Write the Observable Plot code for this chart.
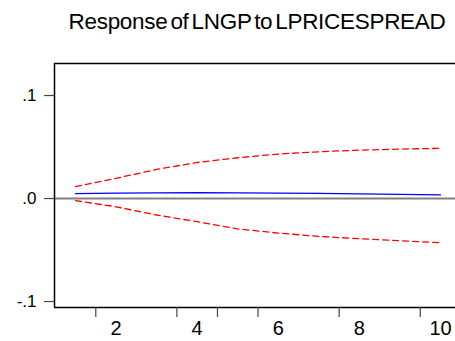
<!DOCTYPE html>
<html>
<head>
<meta charset="utf-8">
<script src="https://cdn.jsdelivr.net/npm/d3@7"></script>
<script src="https://cdn.jsdelivr.net/npm/@observablehq/plot@0.6"></script>
<style>
  html, body { margin: 0; padding: 0; background: #fff; }
  #wrap { width: 455px; height: 341px; overflow: hidden; position: relative; font-family: "Liberation Sans", Arial, sans-serif; }
  #title { position: relative; width: 455px; height: 40px; }
  #title span { position: absolute; top: 11px; left: 0; width: 455px; padding-left: 59px; box-sizing: border-box; text-align: center;
    font-size: 22.5px; line-height: 22px; letter-spacing: -0.3px; word-spacing: -3px; color: #000; white-space: nowrap; }
</style>
</head>
<body>
<div id="wrap">
  <div id="title"><span>Response of LNGP to LPRICESPREAD</span></div>
  <div id="chart"></div>
</div>
<script>
const periods = [1, 2, 3, 4, 5, 6, 7, 8, 9, 10];
const response = [0.0047, 0.0052, 0.0055, 0.0056, 0.0055, 0.0053, 0.0050, 0.0046, 0.0041, 0.0036];
const upperBand = [0.0115, 0.0196, 0.0283, 0.0350, 0.0396, 0.0432, 0.0454, 0.0470, 0.0480, 0.0487];
const lowerBand = [-0.0020, -0.0080, -0.0160, -0.0225, -0.0295, -0.0335, -0.0368, -0.0390, -0.0410, -0.0430];
const yTickValues = [-0.1, 0, 0.1];
const yTickLabels = ["-.1", ".0", ".1"];
const xTickMarks = [1.5, 3.5, 4.5, 5.5, 7.5, 9.5];
const xTickLabels = [2, 4, 6, 8, 10];

const rows = periods.map((p, i) => ({p, r: response[i], u: upperBand[i], l: lowerBand[i]}));
const xDomain = [0.482, 10.369];
const yDomain = [-0.1058, 0.1311];

const chart = Plot.plot({
  width: 455,
  height: 301,
  marginTop: 23,
  marginBottom: 34,
  marginLeft: 54,
  marginRight: 0,
  style: {fontFamily: '"Liberation Sans", Arial, sans-serif', color: "#000", background: "#fff"},
  x: {domain: xDomain, axis: null},
  y: {domain: yDomain, axis: null},
  marks: [
    Plot.ruleY([0], {stroke: "#808080", strokeWidth: 2}),
    Plot.lineY(rows, {x: "p", y: "u", stroke: "#ff0000", strokeWidth: 1.3, strokeDasharray: "6,4"}),
    Plot.lineY(rows, {x: "p", y: "l", stroke: "#ff0000", strokeWidth: 1.3, strokeDasharray: "6,4"}),
    Plot.lineY(rows, {x: "p", y: "r", stroke: "#0000ff", strokeWidth: 1.3}),
    Plot.ruleY([yDomain[1]], {stroke: "#000", strokeWidth: 1.5}),
    Plot.ruleY([yDomain[0]], {stroke: "#000", strokeWidth: 1.5}),
    Plot.ruleX([xDomain[0]], {stroke: "#000", strokeWidth: 1.5}),
    Plot.axisY({ticks: yTickValues, tickFormat: (d) => yTickLabels[yTickValues.indexOf(d)], tickSize: 10, tickPadding: 8, fontSize: 17, stroke: "#444", strokeWidth: 1.2, label: null}),
    Plot.axisX({ticks: xTickMarks, tickFormat: () => "", tickSize: 10, stroke: "#444", strokeWidth: 1.2, label: null}),
    Plot.axisX({ticks: xTickLabels, tickSize: 0, tickPadding: 13, fontSize: 20, label: null})
  ]
});
document.getElementById("chart").appendChild(chart);
</script>
</body>
</html>
